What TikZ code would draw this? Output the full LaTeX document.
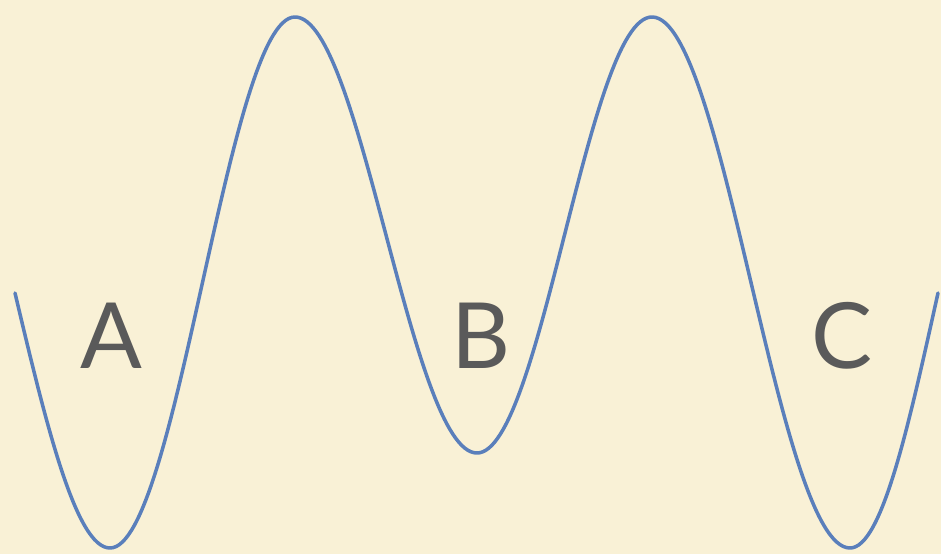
\documentclass[tikz,border=0pt]{standalone}
\usepackage{fontspec}
\setsansfont{Lato}
\usepackage{tikz}
\definecolor{paper}{HTML}{F9F1D6}
\definecolor{wave}{HTML}{5A7FBB}
\definecolor{letter}{HTML}{5A5A5A}

\begin{document}
\begin{tikzpicture}[x=0.02cm,y=-0.02cm, lbl/.style={inner sep=0pt,text=letter,font=\sffamily\fontsize{52}{52}\selectfont}, curve/.style={draw=wave,line width=2pt,line cap=round,line join=round}]
\fill[paper] (0,0) rectangle (941,554);
\useasboundingbox (0,0) rectangle (941,554);
% extrema of the wave
\coordinate (s) at (15,293);
\coordinate (tA) at (110,548);
\coordinate (p1) at (295,17);
\coordinate (tB) at (477,453);
\coordinate (p2) at (652,17);
\coordinate (tC) at (850,548);
\coordinate (e) at (938,293);
\draw[curve] (s) .. controls (46,424) and (76,548) .. (tA)
  .. controls (177,548) and (228,17) .. (p1)
  .. controls (361,17) and (411,453) .. (tB)
  .. controls (541,453) and (588,17) .. (p2)
  .. controls (724,17) and (778,548) .. (tC)
  .. controls (882,548) and (909,424) .. (e);
\node[lbl] (A) at (111,336) {A};
\node[lbl] (B) at (481,336) {B};
\node[lbl] (C) at (842,336) {C};
\end{tikzpicture}
\end{document}
